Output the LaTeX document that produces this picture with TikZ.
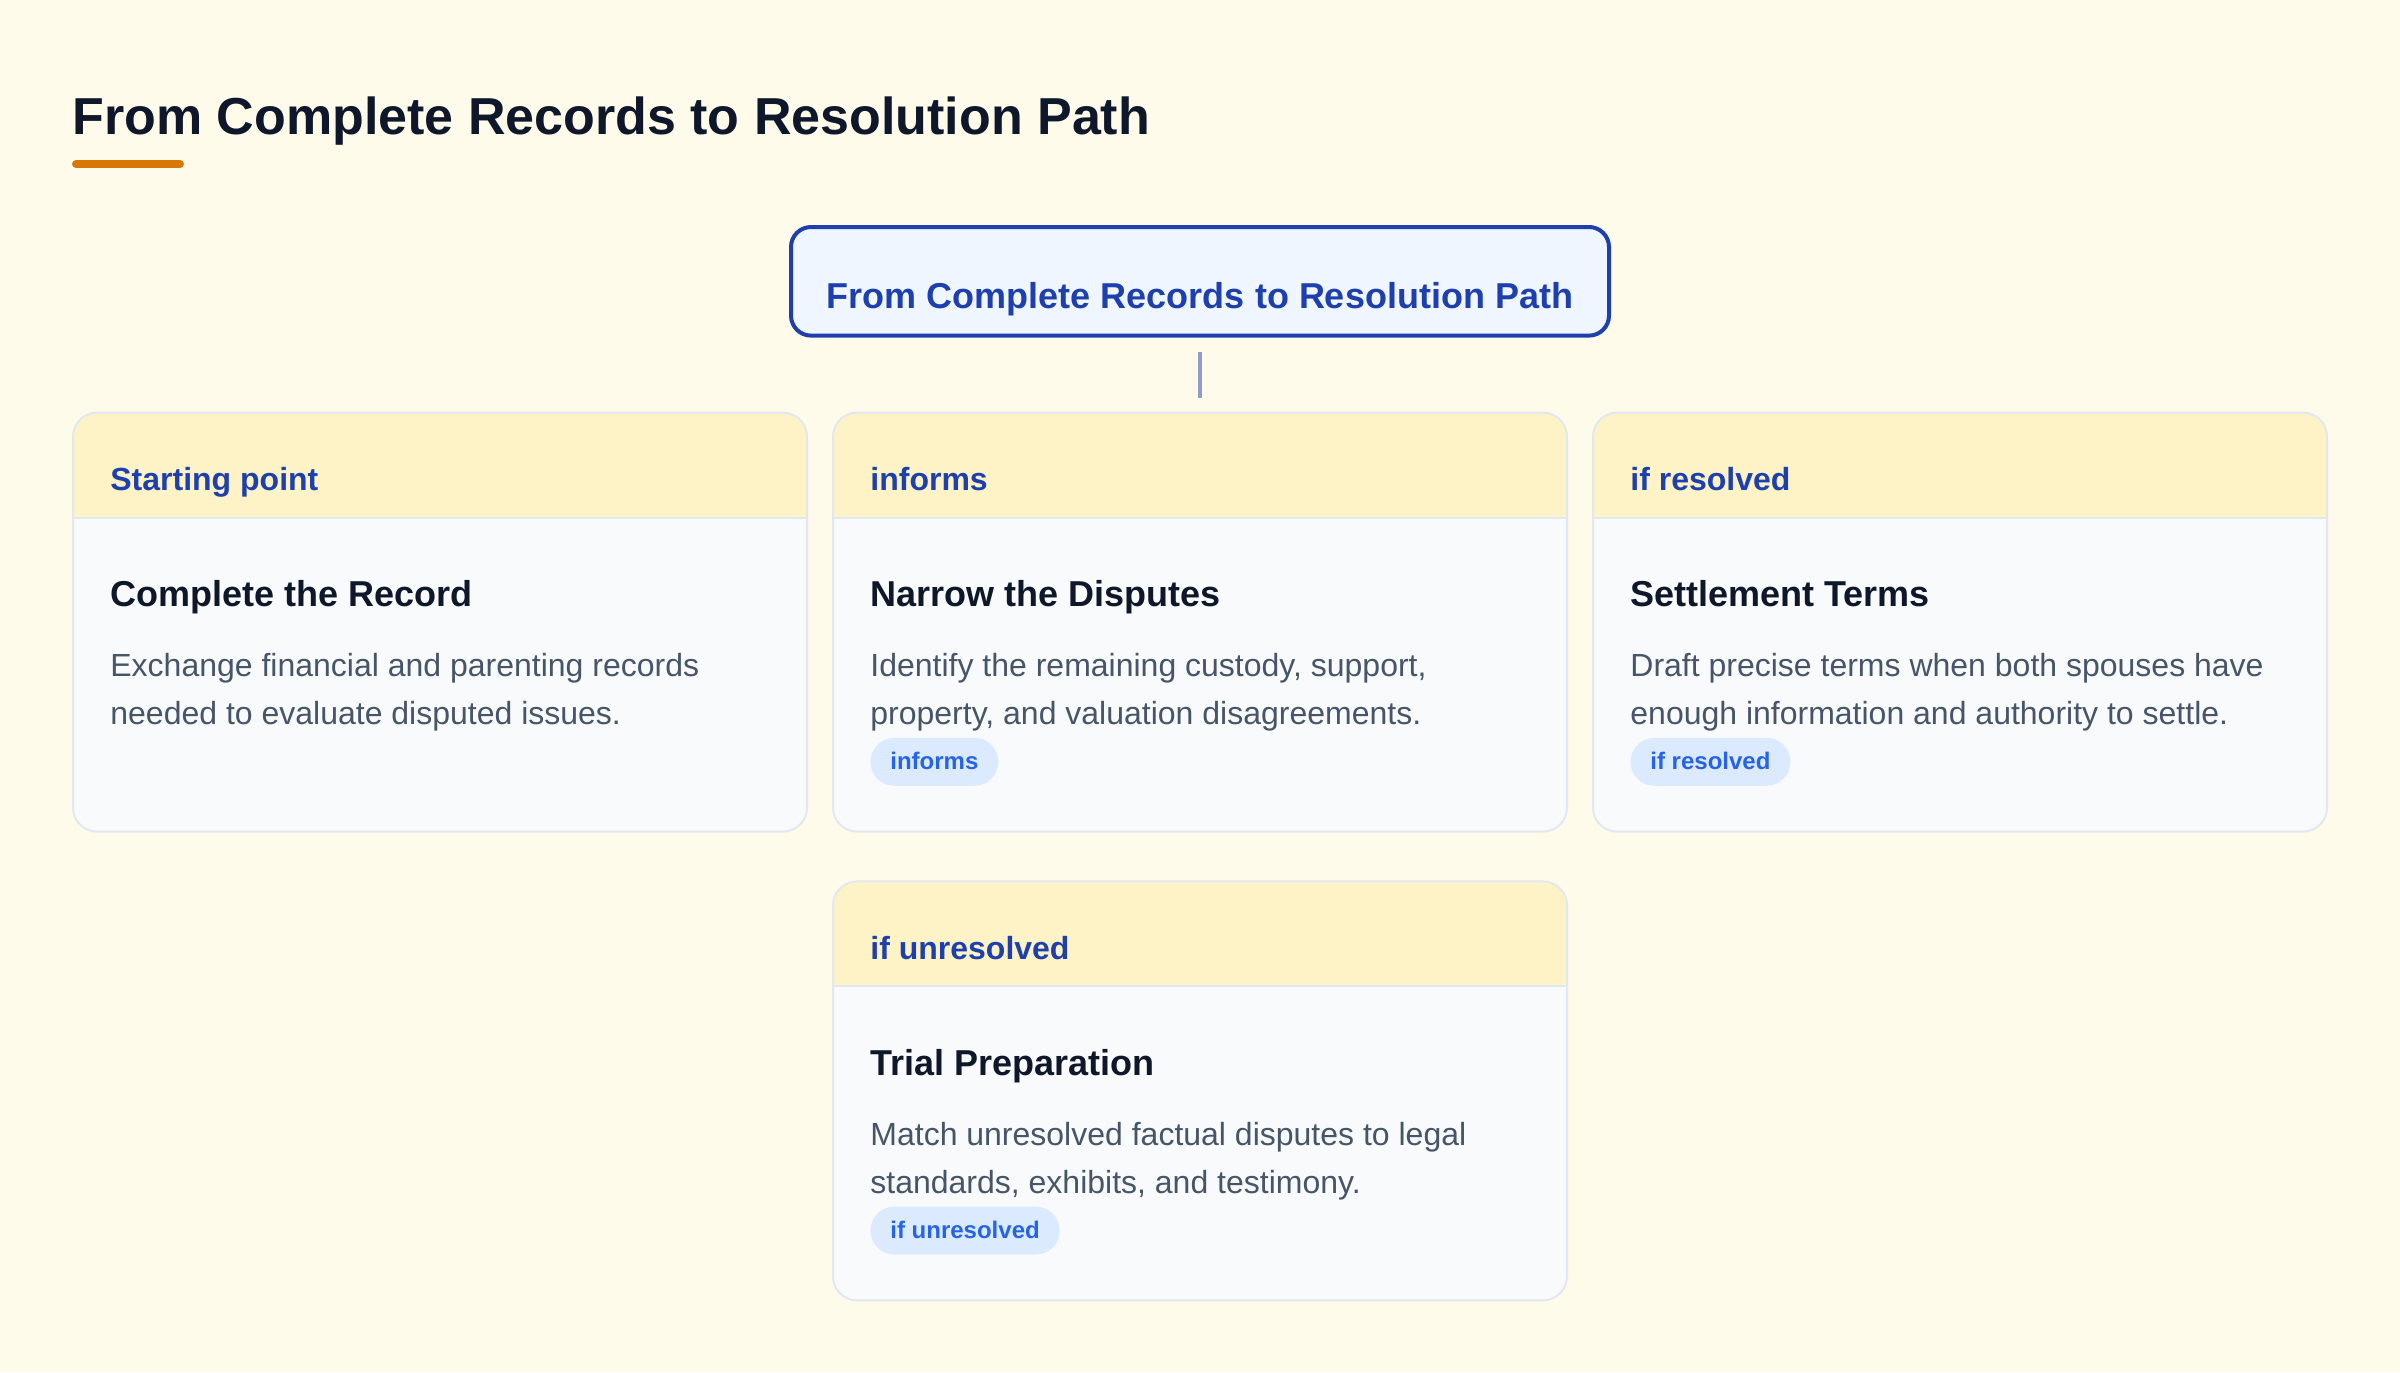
\documentclass[tikz,border=0pt]{standalone}
\usepackage{fontspec}
\setmainfont{Liberation Sans}
\definecolor{pagebg}{HTML}{FFFBEB}
\definecolor{ink}{HTML}{0F172A}
\definecolor{slate}{HTML}{475569}
\definecolor{accent}{HTML}{D97706}
\definecolor{hdrblue}{HTML}{1E40AF}
\definecolor{rootfill}{HTML}{EFF6FF}
\definecolor{linkgray}{HTML}{8E9DCD}
\definecolor{cardline}{HTML}{E2E8F0}
\definecolor{cardbody}{HTML}{F8FAFC}
\definecolor{hdrfill}{HTML}{FEF3C7}
\definecolor{pillfill}{HTML}{DBEAFE}
\definecolor{pillblue}{HTML}{2563EB}
\tikzset{
  rootbox/.style={draw=hdrblue, line width=2pt, fill=rootfill, rounded corners=10pt,
    minimum width=409pt, inner xsep=0pt, inner ysep=0pt, text height=40.5pt, text depth=13.8pt,
    text=hdrblue, font=\bfseries\fontsize{18}{22}\selectfont},
  cardbox/.style={draw=cardline, line width=1pt, fill=cardbody, rounded corners=12pt,
    minimum width=367pt, minimum height=209.5pt, inner sep=0pt, anchor=north west,
    path picture={
      \fill[hdrfill, sharp corners] (path picture bounding box.north west) rectangle ([yshift=-52.5pt]path picture bounding box.north east);
      \draw[cardline, line width=1pt, sharp corners] ([yshift=-52.5pt]path picture bounding box.north west) -- ([yshift=-52.5pt]path picture bounding box.north east);}},
  hdrtxt/.style={anchor=base west, inner sep=0pt, text=hdrblue, font=\bfseries\fontsize{16}{19}\selectfont},
  ttltxt/.style={anchor=base west, inner sep=0pt, text=ink, font=\bfseries\fontsize{18}{22}\selectfont},
  desctxt/.style={anchor=base west, inner sep=0pt, text=slate, align=left, font=\fontsize{16}{24}\selectfont},
  pill/.style={anchor=base west, fill=pillfill, text=pillblue, rounded corners=12pt, inner xsep=10pt,
    inner ysep=0pt, text height=15.7pt, text depth=8.3pt, font=\bfseries\fontsize{12}{14}\selectfont},
  link/.style={draw=linkgray, line width=2pt}
}
\begin{document}
\begin{tikzpicture}[x=1pt,y=-1pt]
\useasboundingbox (0,0) rectangle (1200,686);
\fill[pagebg] (0,0) rectangle (1200,686);
% heading
\node[anchor=base west, inner sep=0pt, text=ink, font=\bfseries\fontsize{26}{30}\selectfont] (title) at (36,67) {From Complete Records to Resolution Path};
\draw[accent, line width=4pt, line cap=round] ([xshift=2pt,yshift=-15pt]title.base west) -- ++(52,0);
% root
\node[rootbox, anchor=base] (root) at (600,154) {From Complete Records to Resolution Path};
% cards
\node[cardbox] (c1) at (36,205.8) {};
\node[cardbox] (c2) at (416,205.8) {};
\node[cardbox] (c3) at (796,205.8) {};
\node[cardbox] (c4) at (416,440.2) {};
\draw[link] ([yshift=-7pt]root.south) -- ([yshift=7pt]root.south |- c2.north);
% card 1
\node[hdrtxt] (c1h) at ([xshift=19pt,yshift=-39.5pt]c1.north west) {Starting point};
\node[ttltxt] (c1t) at ([xshift=19pt,yshift=-97.3pt]c1.north west) {Complete the Record};
\node[desctxt] (c1d) at ([xshift=19pt,yshift=-156.3pt]c1.north west) {Exchange financial and parenting records\\needed to evaluate disputed issues.};
% card 2
\node[hdrtxt] (c2h) at ([xshift=19pt,yshift=-39.5pt]c2.north west) {informs};
\node[ttltxt] (c2t) at ([xshift=19pt,yshift=-97.3pt]c2.north west) {Narrow the Disputes};
\node[desctxt] (c2d) at ([xshift=19pt,yshift=-156.3pt]c2.north west) {Identify the remaining custody, support,\\property, and valuation disagreements.};
\node[pill] (c2p) at ([xshift=19pt,yshift=-178.8pt]c2.north west) {informs};
% card 3
\node[hdrtxt] (c3h) at ([xshift=19pt,yshift=-39.5pt]c3.north west) {if resolved};
\node[ttltxt] (c3t) at ([xshift=19pt,yshift=-97.3pt]c3.north west) {Settlement Terms};
\node[desctxt] (c3d) at ([xshift=19pt,yshift=-156.3pt]c3.north west) {Draft precise terms when both spouses have\\enough information and authority to settle.};
\node[pill] (c3p) at ([xshift=19pt,yshift=-178.8pt]c3.north west) {if resolved};
% card 4
\node[hdrtxt] (c4h) at ([xshift=19pt,yshift=-39.5pt]c4.north west) {if unresolved};
\node[ttltxt] (c4t) at ([xshift=19pt,yshift=-97.3pt]c4.north west) {Trial Preparation};
\node[desctxt] (c4d) at ([xshift=19pt,yshift=-156.3pt]c4.north west) {Match unresolved factual disputes to legal\\standards, exhibits, and testimony.};
\node[pill] (c4p) at ([xshift=19pt,yshift=-178.8pt]c4.north west) {if unresolved};
\end{tikzpicture}
\end{document}
